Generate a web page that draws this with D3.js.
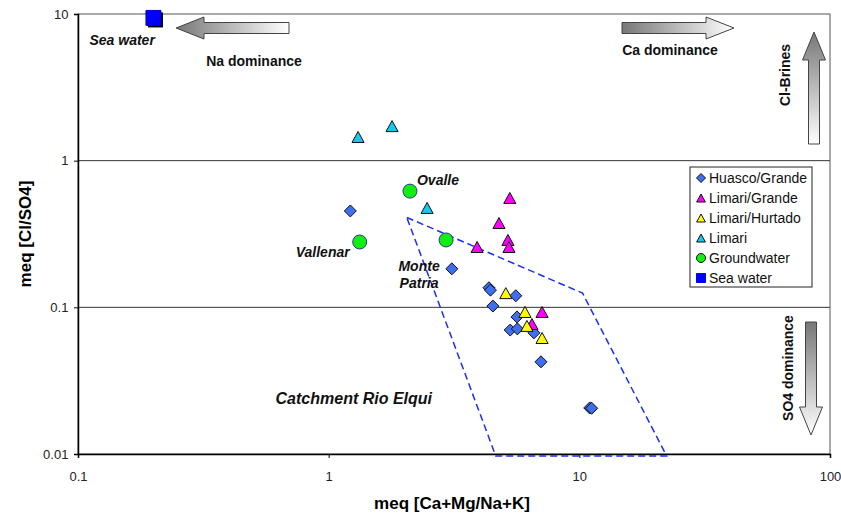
<!DOCTYPE html>
<html>
<head>
<meta charset="utf-8">
<script src="https://cdnjs.cloudflare.com/ajax/libs/d3/7.8.5/d3.min.js"></script>
<style>
  body { margin: 0; background: #fff; }
  svg { font-family: "Liberation Sans", Arial, sans-serif; }
</style>
</head>
<body>
<div id="chart"></div>
<script>
// data: [Ca+Mg/Na+K, Cl/SO4] in meq
const huascoGrande = [
  [1.22, 0.454], [3.10, 0.183], [4.36, 0.136], [4.42, 0.131], [5.58, 0.120],
  [4.52, 0.102], [5.64, 0.086], [5.30, 0.070], [5.66, 0.0713], [6.59, 0.067],
  [7.03, 0.0425], [11.0, 0.0206], [11.2, 0.0205]
];
const limariGrande = [
  [5.28, 0.557], [4.78, 0.376], [5.19, 0.288], [5.24, 0.258], [3.91, 0.258],
  [7.10, 0.093], [6.47, 0.077]
];
const limariHurtado = [[5.09, 0.125], [6.07, 0.093], [6.18, 0.0747], [7.10, 0.0618]];
const limari = [[1.31, 1.45], [1.79, 1.72], [2.47, 0.476]];
const groundwater = [[2.11, 0.62], [1.33, 0.279], [2.94, 0.288]];
const groundwaterNames = ["Ovalle", "Vallenar", "Monte\nPatria"];
const seaWater = [[0.2, 9.4]];

// catchment Rio Elqui outline
const elquiX = [2.05, 10.3, 22.3, 4.64];
const elquiY = [0.41, 0.125, 0.0097, 0.0097];

const xTicks = [0.1, 1, 10, 100];
const yTicks = [0.01, 0.1, 1, 10];
const gridLines = [0.1, 1];

const width = 841, height = 515;
const margin = { top: 14, right: 11, bottom: 61, left: 78 };
const innerW = width - margin.left - margin.right;
const innerH = height - margin.top - margin.bottom;

const svg = d3.select("#chart").append("svg")
  .attr("width", width).attr("height", height);

const defs = svg.append("defs");
function grad(id, x1, y1, x2, y2) {
  const g = defs.append("linearGradient").attr("id", id)
    .attr("x1", x1).attr("y1", y1).attr("x2", x2).attr("y2", y2);
  g.append("stop").attr("offset", "0%").attr("stop-color", "#777");
  g.append("stop").attr("offset", "100%").attr("stop-color", "#fff");
}
grad("gRight", "0", "0", "1", "0");
grad("gDown", "0", "0", "0", "1");

const g = svg.append("g").attr("transform", `translate(${margin.left},${margin.top})`);

const x = d3.scaleLog().domain([0.1, 100]).range([0, innerW]);
const y = d3.scaleLog().domain([0.01, 10]).range([innerH, 0]);

// grid lines
g.selectAll(".grid").data(gridLines).enter().append("line")
  .attr("x1", 0).attr("x2", innerW)
  .attr("y1", d => y(d)).attr("y2", d => y(d))
  .attr("stroke", "#333").attr("stroke-width", 1);

// plot frame
g.append("rect").attr("width", innerW).attr("height", innerH)
  .attr("fill", "none").attr("stroke", "#555").attr("stroke-width", 1);

// axes
const xAxis = g.append("g").attr("transform", `translate(0,${innerH})`)
  .call(d3.axisBottom(x).tickValues(xTicks).tickFormat(d3.format("~g")).tickSizeOuter(0).tickSize(4));
const yAxis = g.append("g")
  .call(d3.axisLeft(y).tickValues(yTicks).tickFormat(d3.format("~g")).tickSizeOuter(0).tickSize(4));
[xAxis, yAxis].forEach(a => {
  a.select(".domain").attr("stroke", "#000").attr("stroke-width", 1.5);
  a.selectAll("line").attr("stroke", "#000");
  a.selectAll("text").attr("font-size", 13).attr("fill", "#222")
    .attr("font-family", "'Liberation Sans', Arial, sans-serif");
});
xAxis.selectAll("text").attr("dy", "1.5em");
yAxis.selectAll("text").attr("dx", "-0.2em");

// axis titles
svg.append("text")
  .attr("x", margin.left + innerW / 2 - 2).attr("y", 509)
  .attr("text-anchor", "middle").attr("font-size", 17).attr("font-weight", "bold")
  .text("meq [Ca+Mg/Na+K]");
svg.append("text")
  .attr("transform", `translate(31,${margin.top + innerH / 2}) rotate(-90)`)
  .attr("text-anchor", "middle").attr("font-size", 17).attr("font-weight", "bold")
  .text("meq [Cl/SO4]");

// Rio Elqui outline
const elqui = elquiX.map((v, i) => [x(v), y(elquiY[i])]);
g.append("path")
  .attr("d", d3.line()(elqui) + "Z")
  .attr("fill", "none").attr("stroke", "#1a2ff0").attr("stroke-width", 1.5)
  .attr("stroke-dasharray", "7,4");

// marker shapes
const shapes = {
  diamond: s => `M0,${-s}L${s},0L0,${s}L${-s},0Z`,
  triangle: s => `M0,${-s}L${s * 1.1},${s}L${-s * 1.1},${s}Z`,
  circle: s => d3.arc()({ innerRadius: 0, outerRadius: s, startAngle: 0, endAngle: 2 * Math.PI }),
  square: s => `M${-s},${-s}H${s}V${s}H${-s}Z`
};

const series = [
  { name: "Huasco/Grande", data: huascoGrande, shape: "diamond", fill: "#3f6ff0", stroke: "#111", size: 6, legend: 4.5 },
  { name: "Limari/Grande", data: limariGrande, shape: "triangle", fill: "#ff00ff", stroke: "#111", size: 5.5, legend: 4 },
  { name: "Limari/Hurtado", data: limariHurtado, shape: "triangle", fill: "#ffff00", stroke: "#111", size: 5.5, legend: 4 },
  { name: "Limari", data: limari, shape: "triangle", fill: "#19c8f0", stroke: "#111", size: 5.5, legend: 4 },
  { name: "Groundwater", data: groundwater, shape: "circle", fill: "#11ee11", stroke: "#2a3a8a", size: 7, legend: 4.5 },
  { name: "Sea water", data: seaWater, shape: "square", fill: "#0000ff", stroke: "#0000cc", size: 7.5, legend: 4.5 }
];

series.forEach(s => {
  const grp = g.append("g");
  if (s.shape === "square") {
    grp.selectAll(".shadow").data(s.data).enter().append("path")
      .attr("transform", d => `translate(${x(d[0]) + 2},${y(d[1]) + 2})`)
      .attr("d", shapes.square(s.size)).attr("fill", "#000");
  }
  grp.selectAll(".pt").data(s.data).enter().append("path")
    .attr("transform", d => `translate(${x(d[0])},${y(d[1])})`)
    .attr("d", shapes[s.shape](s.size))
    .attr("fill", s.fill).attr("stroke", s.stroke).attr("stroke-width", 1);
});

// annotations (bold italic)
const ann = g.append("g").attr("font-size", 14).attr("font-weight", "bold").attr("font-style", "italic").attr("fill", "#111");
ann.append("text").attr("x", x(seaWater[0][0]) - 64).attr("y", y(seaWater[0][1]) + 27).text("Sea water");
ann.append("text").attr("x", x(groundwater[0][0]) + 7).attr("y", y(groundwater[0][1]) - 6).text("Ovalle");
ann.append("text").attr("x", x(groundwater[1][0]) - 10).attr("y", y(groundwater[1][1]) + 15)
  .attr("text-anchor", "end").text("Vallenar");
const mp = ann.append("text").attr("text-anchor", "middle");
groundwaterNames[2].split("\n").forEach((t, i) => {
  mp.append("tspan").attr("x", x(groundwater[2][0]) - 27)
    .attr("y", y(groundwater[2][1]) + 31 + i * 17).text(t);
});
ann.append("text").attr("x", 354).attr("y", 390).attr("text-anchor", "end")
  .attr("font-size", 16).text("Catchment Rio Elqui");

// dominance arrows and labels (plot-relative positions)
const arr = g.append("g").attr("stroke", "#444").attr("stroke-width", 1);
function hArrow(x0, x1, yc, dir, fill) {
  // x0 = tail, x1 = tip
  const head = 28 * dir, bh = 5.5, hh = 11;
  const xb = x1 - head;
  arr.append("path")
    .attr("d", `M${x0},${yc - bh}L${xb},${yc - bh}L${xb},${yc - hh}L${x1},${yc}L${xb},${yc + hh}L${xb},${yc + bh}L${x0},${yc + bh}Z`)
    .attr("fill", fill);
}
function vArrow(xc, y0, y1, fill) {
  // y0 = tail, y1 = tip
  const dir = y1 > y0 ? 1 : -1;
  const head = 28 * dir, bw = 5.5, hw = 11.5;
  const yb = y1 - head;
  arr.append("path")
    .attr("d", `M${xc - bw},${y0}L${xc - bw},${yb}L${xc - hw},${yb}L${xc},${y1}L${xc + hw},${yb}L${xc + bw},${yb}L${xc + bw},${y0}Z`)
    .attr("fill", fill);
}
hArrow(211, 98, 14, -1, "url(#gRight)");   // Na
hArrow(544, 656, 14, 1, "url(#gRight)");   // Ca
vArrow(736, 130, 18, "url(#gDown)");       // Cl-Brines
vArrow(733, 308, 421, "url(#gDown)");      // SO4

const lab = g.append("g").attr("font-size", 14).attr("font-weight", "bold").attr("fill", "#111");
lab.append("text").attr("x", 176).attr("y", 52).attr("text-anchor", "middle").text("Na dominance");
lab.append("text").attr("x", 592).attr("y", 41).attr("text-anchor", "middle").text("Ca dominance");
lab.append("text").attr("transform", "translate(712,61) rotate(-90)").attr("text-anchor", "middle").text("Cl-Brines");
lab.append("text").attr("transform", "translate(715,354) rotate(-90)").attr("text-anchor", "middle").text("SO4 dominance");

// legend
const legend = g.append("g").attr("transform", "translate(612,153)");
legend.append("rect").attr("width", 122).attr("height", 120)
  .attr("fill", "#fff").attr("stroke", "#222").attr("stroke-width", 1);
const li = legend.selectAll(".li").data(series).enter().append("g")
  .attr("transform", (d, i) => `translate(11,${11 + i * 20})`);
li.append("path").attr("d", d => shapes[d.shape](d.legend))
  .attr("fill", d => d.fill)
  .attr("stroke", d => d.shape === "square" ? d.fill : "#111").attr("stroke-width", 1);
li.append("text").attr("x", 8).attr("y", 5).attr("font-size", 14).attr("fill", "#111")
  .text(d => d.name);
</script>
</body>
</html>
